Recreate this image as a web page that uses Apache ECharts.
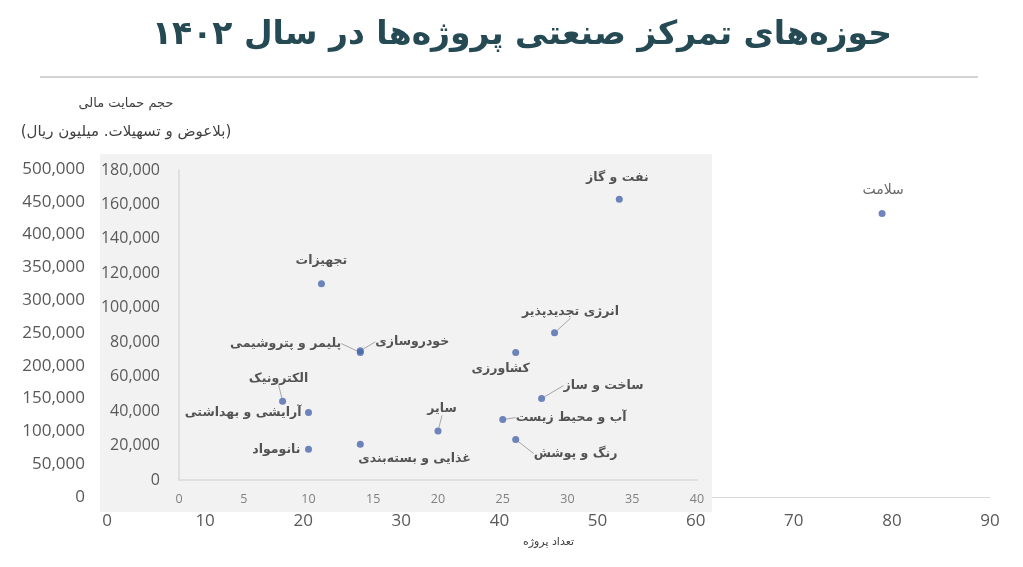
<!DOCTYPE html>
<html>
<head>
<meta charset="utf-8">
<script src="https://cdn.jsdelivr.net/npm/echarts@6/dist/echarts.min.js"></script>
<style>
html,body{margin:0;padding:0;background:#ffffff;}
#chart{width:1023px;height:567px;}
</style>
</head>
<body>
<div id="chart"></div>
<script>
// ---- texts ----
const titleText = 'حوزه‌های تمرکز صنعتی پروژه‌ها در سال ۱۴۰۲';
const yNameLine1 = 'حجم حمایت مالی';
const yNameLine2 = '(بلاعوض و تسهیلات. میلیون ریال)';
const xAxisName = 'تعداد پروژه';

// ---- inset (zoomed) data ----
const sectors = ['نفت و گاز', 'تجهیزات', 'انرژی تجدیدپذیر', 'کشاورزی', 'خودروسازی', 'پلیمر و پتروشیمی', 'ساخت و ساز', 'آب و محیط زیست', 'رنگ و پوشش', 'سایر', 'غذایی و بسته‌بندی', 'الکترونیک', 'آرایشی و بهداشتی', 'نانومواد'];
const projectCounts = [34, 11, 29, 26, 14, 14, 28, 25, 26, 20, 14, 8, 10, 10];
const fundingAmounts = [163000, 114000, 85500, 74000, 75000, 74000, 47300, 35100, 23500, 28500, 20800, 45700, 39200, 17800];

// ---- outer chart data ----
const outerSectors = ['سلامت'];
const outerProjectCounts = [79];
const outerFundingAmounts = [432000];

// ---- axis ranges / ticks ----
const outerXTicks = [0, 10, 20, 30, 40, 50, 60, 70, 80, 90];
const outerYTicks = [0, 50000, 100000, 150000, 200000, 250000, 300000, 350000, 400000, 450000, 500000];
const insetXTicks = [0, 5, 10, 15, 20, 25, 30, 35, 40];
const insetYTicks = [0, 20000, 40000, 60000, 80000, 100000, 120000, 140000, 160000, 180000];

// ---- label placement (style only: anchor offset from point, text alignment, leader line flag) ----
const labelPlacement = [
  [-2, -22, 'center'],  // نفت و گاز
  [0, -23, 'center'],   // تجهیزات
  [16, -21, 'center'],  // انرژی تجدیدپذیر
  [-15, 16, 'center'],  // کشاورزی
  [15, -9, 'left'],     // خودروسازی
  [-19, -9, 'right'],   // پلیمر و پتروشیمی
  [22, -13, 'left'],    // ساخت و ساز
  [13, -2, 'left'],     // آب و محیط زیست
  [18, 14, 'left'],     // رنگ و پوشش
  [4, -22, 'center'],   // سایر
  [-2, 15, 'left'],     // غذایی و بسته‌بندی
  [-4, -23, 'center'],  // الکترونیک
  [-7, 0, 'right'],     // آرایشی و بهداشتی
  [-8, 0, 'right']      // نانومواد
];
const labelLeader = [false,false,true,false,true,true,true,true,true,true,false,true,false,false];
const outerLabelPlacement = [[1, -23, 'center']];

const fmt = v => Number(v).toLocaleString('en-US');
const numFont = 'Open Sans';
const faFont = 'DejaVu Sans';

const chart = echarts.init(document.getElementById('chart'));

const insetData = sectors.map((s, i) => ({
  name: s,
  value: [projectCounts[i], fundingAmounts[i]],
  labelLine: { show: labelLeader[i] }
}));
const outerData = outerSectors.map((s, i) => ({
  name: s,
  value: [outerProjectCounts[i], outerFundingAmounts[i]]
}));

function placer(table) {
  return function (p) {
    const o = table[p.dataIndex];
    const cx = p.rect.x + p.rect.width / 2;
    const cy = p.rect.y + p.rect.height / 2;
    return { x: cx + o[0], y: cy + o[1], align: o[2], verticalAlign: 'middle' };
  };
}

chart.setOption({
  animation: false,
  backgroundColor: '#ffffff',
  title: [
    { text: titleText, left: 522, top: 35, padding: 0, textAlign: 'center', textVerticalAlign: 'middle',
      textStyle: { fontFamily: faFont, fontSize: 33, fontWeight: 'bold', color: '#254a54' } },
    { text: yNameLine1, left: 126, top: 104, padding: 0, textAlign: 'center', textVerticalAlign: 'middle',
      textStyle: { fontFamily: faFont, fontSize: 13, fontWeight: 'normal', color: '#404040' } },
    { text: yNameLine2, left: 126, top: 132, padding: 0, textAlign: 'center', textVerticalAlign: 'middle',
      textStyle: { fontFamily: faFont, fontSize: 15, fontWeight: 'normal', color: '#404040' } }
  ],
  graphic: {
    elements: [
      { type: 'line', z: 1, shape: { x1: 40, y1: 77, x2: 978, y2: 77 }, style: { stroke: '#a6a6a6', lineWidth: 1 } },
      { type: 'rect', z: 1, left: 100, top: 154, shape: { width: 612, height: 358 }, style: { fill: '#f2f2f2' } }
    ]
  },
  grid: [
    { left: 107, right: 33, top: 169, bottom: 70, containLabel: false },
    { left: 179, right: 326, top: 170, bottom: 87, containLabel: false }
  ],
  xAxis: [
    { type: 'value', gridIndex: 0, z: 0,
      min: outerXTicks[0], max: outerXTicks[outerXTicks.length - 1], interval: outerXTicks[1] - outerXTicks[0],
      name: xAxisName, nameLocation: 'middle', nameGap: 40,
      nameTextStyle: { fontFamily: faFont, fontSize: 11, color: '#404040' },
      axisLine: { show: true, lineStyle: { color: '#d9d9d9', width: 1 } },
      axisTick: { show: false },
      splitLine: { show: false },
      axisLabel: { fontFamily: numFont, fontSize: 17, color: '#595959', margin: 16 } },
    { type: 'value', gridIndex: 1, z: 3,
      min: insetXTicks[0], max: insetXTicks[insetXTicks.length - 1], interval: insetXTicks[1] - insetXTicks[0],
      axisLine: { show: true, onZero: false, lineStyle: { color: '#d9d9d9', width: 1.5 } },
      axisTick: { show: false },
      splitLine: { show: false },
      axisLabel: { fontFamily: numFont, fontSize: 12.5, color: '#7f7f7f', margin: 13 } }
  ],
  yAxis: [
    { type: 'value', gridIndex: 0, z: 0,
      min: outerYTicks[0], max: outerYTicks[outerYTicks.length - 1], interval: outerYTicks[1] - outerYTicks[0],
      axisLine: { show: false }, axisTick: { show: false }, splitLine: { show: false },
      axisLabel: { fontFamily: numFont, fontSize: 17, color: '#595959', margin: 22, formatter: fmt } },
    { type: 'value', gridIndex: 1, z: 3,
      min: insetYTicks[0], max: insetYTicks[insetYTicks.length - 1], interval: insetYTicks[1] - insetYTicks[0],
      axisLine: { show: true, onZero: false, lineStyle: { color: '#d9d9d9', width: 1.5 } },
      axisTick: { show: false }, splitLine: { show: false },
      axisLabel: { fontFamily: numFont, fontSize: 16, color: '#595959', margin: 19, formatter: fmt } }
  ],
  series: [
    { type: 'scatter', xAxisIndex: 1, yAxisIndex: 1, z: 5,
      symbolSize: 7,
      itemStyle: { color: '#4a66ac' },
      data: insetData,
      label: { show: true, position: 'inside', formatter: '{b}',
        fontFamily: faFont, fontSize: 12.5, fontWeight: 'bold', color: '#2b2b2b' },
      labelLine: { show: false, lineStyle: { color: '#a6a6a6', width: 1 } },
      labelLayout: placer(labelPlacement)
    },
    { type: 'scatter', xAxisIndex: 0, yAxisIndex: 0, z: 5,
      symbolSize: 7,
      itemStyle: { color: '#4a66ac' },
      data: outerData,
      label: { show: true, position: 'inside', formatter: '{b}',
        fontFamily: faFont, fontSize: 14, fontWeight: 'normal', color: '#404040' },
      labelLayout: placer(outerLabelPlacement)
    }
  ]
});
</script>
</body>
</html>
